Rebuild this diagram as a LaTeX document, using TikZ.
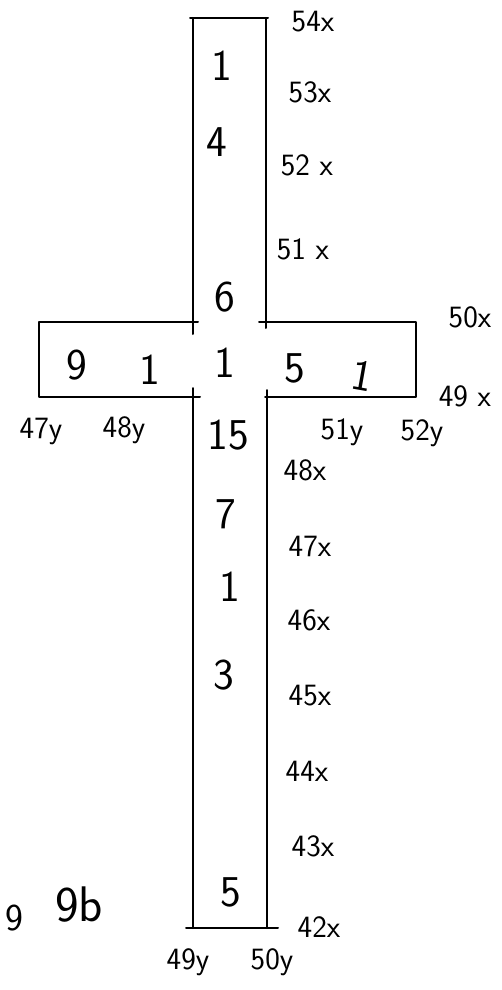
\documentclass[tikz,border=0pt]{standalone}
\usepackage{fontspec}
\begin{document}
\begin{tikzpicture}[x=1pt,y=-1pt,line cap=round,line join=round,font=\sffamily,
  outline/.style={line width=2pt},
  digit/.style={font=\sffamily\fontsize{44}{44}\selectfont,inner sep=0pt},
  tag/.style={font=\sffamily\fontsize{31}{31}\selectfont,inner sep=0pt}]
  \useasboundingbox (0,0) rectangle (502,990);
  % upper column
  \draw[outline] (190,18) -- (268,18);
  \draw[outline] (193,18) -- (193,334);
  \draw[outline] (266,18) -- (266,328);
  % arms
  \draw[outline] (198,322) -- (39,322) -- (39,397) -- (200,397);
  \draw[outline] (259,322) -- (416,322) -- (416,397) -- (265,397);
  % lower column
  \draw[outline] (193,388) -- (193,928);
  \draw[outline] (267,390) -- (267,928);
  \draw[outline] (186,928) -- (278,928);
  % numbers in the cross
  \node[digit] (c1) at (222,66) {1};
  \node[digit] (c4) at (217,142) {4};
  \node[digit] (c6) at (225,297) {6};
  \node[digit] (a9) at (77,365) {9};
  \node[digit] (a1) at (150,370) {1};
  \node[digit] (m1) at (225,363) {1};
  \node[digit] (b5) at (295,368) {5};
  \node[digit,rotate=-10] (b1) at (362,376) {1};
  \node[digit] (d15) at (228,435) {15};
  \node[digit] (d7) at (226,514) {7};
  \node[digit] (d1) at (230,587) {1};
  \node[digit] (d3) at (224,675) {3};
  \node[digit] (d5) at (231,892) {5};
  % x labels
  \node[tag] (x54) at (313,22) {54x};
  \node[tag] (x53) at (310,92) {53x};
  \node[tag] (x52) at (307,165) {52 x};
  \node[tag] (x51) at (303,249) {51 x};
  \node[tag] (x50) at (470,317) {50x};
  \node[tag] (x49) at (465,396) {49 x};
  \node[tag] (x48) at (305,470) {48x};
  \node[tag] (x47) at (310,546) {47x};
  \node[tag] (x46) at (309,620) {46x};
  \node[tag] (x45) at (310,696) {45x};
  \node[tag] (x44) at (307,771) {44x};
  \node[tag] (x43) at (313,846) {43x};
  \node[tag] (x42) at (319,927) {42x};
  % y labels
  \node[tag] (y47) at (41,431) {47y};
  \node[tag] (y48) at (124,430) {48y};
  \node[tag] (y51) at (342,432) {51y};
  \node[tag] (y52) at (422,433) {52y};
  \node[tag] (y49) at (188,962) {49y};
  \node[tag] (y50) at (272,962) {50y};
  % corner note
  \node[digit,font=\sffamily\fontsize{38}{38}\selectfont] (p9) at (14,918) {9};
  \node[digit,font=\sffamily\fontsize{50}{50}\selectfont] (p9b) at (79,905) {9b};
\end{tikzpicture}
\end{document}
